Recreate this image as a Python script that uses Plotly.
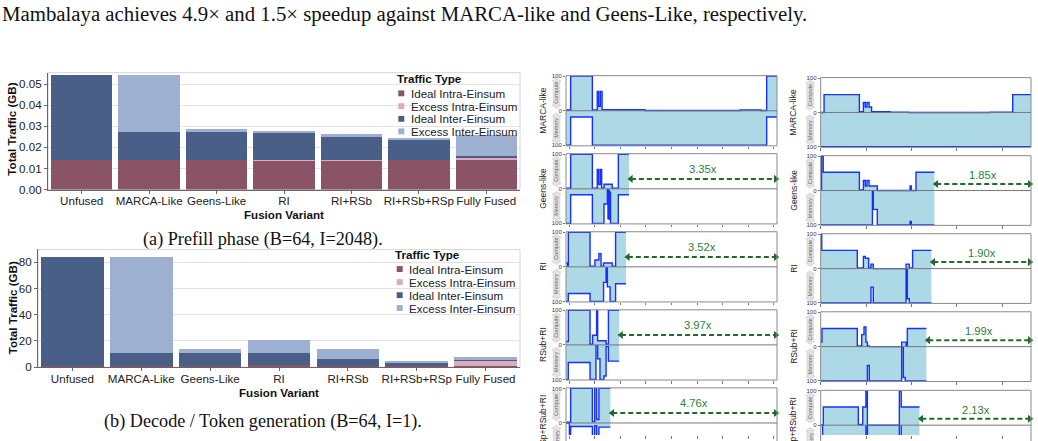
import plotly.graph_objects as go

W, H = 1038, 441

# ---------------- Bar chart data ----------------
categories = ["Unfused", "MARCA-Like", "Geens-Like", "RI", "RI+RSb", "RI+RSb+RSp", "Fully Fused"]
traffic_types = ["Ideal Intra-Einsum", "Excess Intra-Einsum", "Ideal Inter-Einsum", "Excess Inter-Einsum"]

prefill_ideal_intra = [0.0139, 0.0139, 0.0139, 0.0137, 0.0139, 0.0139, 0.0139]
prefill_excess_intra = [0.0, 0.0, 0.0, 0.0002, 0.0001, 0.0, 0.0013]
prefill_ideal_inter = [0.0405, 0.0132, 0.0132, 0.0132, 0.0111, 0.0095, 0.0006]
prefill_excess_inter = [0.0, 0.0273, 0.0017, 0.0008, 0.0014, 0.0012, 0.0099]

decode_ideal_intra = [0.9, 0.9, 0.9, 1.4, 1.2, 1.0, 1.0]
decode_excess_intra = [0.0, 0.0, 0.0, 0.0, 0.0, 0.0, 3.5]
decode_ideal_inter = [82.8, 9.8, 9.8, 9.3, 5.3, 2.3, 0.7]
decode_excess_inter = [0.0, 73.0, 3.5, 10.3, 7.7, 1.2, 2.3]

prefill_yticks = [0.0, 0.01, 0.02, 0.03, 0.04, 0.05]
decode_yticks = [0, 20, 40, 60, 80]

# ---------------- Timeline data (time in % of MARCA-like runtime) ----------------
row_labels = ["MARCA-like", "Geens-like", "RI", "RSub+RI", "RSp+RSub+RI"]
left_speedups = [None, 3.35, 3.52, 3.97, 4.76]
right_speedups = [None, 1.85, 1.90, 1.99, 2.13]

left_marca_t = [0, 2.2, 12.5, 14.8, 15.5, 16.3, 17.1, 37.4, 82.5, 92.4, 95.1, 100]
left_marca_compute = [2, 100, 2, 56, 13, 56, 3, 0.5, 2, 0.5, 100]
left_marca_memory = [100, 18, 100, 100, 100, 100, 100, 100, 100, 100, 18]

left_geens_t = [0, 2.2, 12.5, 14.8, 15.5, 16.3, 16.9, 18.0, 19.6, 19.9, 20.2, 20.5, 20.8, 21.1, 21.9, 24.8, 29.85]
left_geens_compute = [2, 100, 2, 56, 13, 56, 2, 13, 13, 13, 13, 13, 13, 13, 2, 100]
left_geens_memory = [100, 17, 100, 100, 100, 100, 100, 44, 2, 86, 5, 88, 10, 100, 100, 17]

left_ri_t = [0, 0.8, 1.1, 11.4, 13.7, 15.6, 16.6, 17.8, 19.0, 19.6, 20.1, 20.9, 21.9, 23.5, 28.41]
left_ri_compute = [11, 2, 100, 2, 20, 38, 2, 11, 11, 11, 11, 11, 2, 100]
left_ri_memory = [100, 100, 77, 100, 100, 100, 100, 45, 3, 58, 58, 100, 100, 49]

left_rsub_t = [0, 1.1, 11.4, 12.6, 14.2, 14.5, 15.0, 16.1, 18.0, 19.0, 20.1, 25.19]
left_rsub_compute = [10, 100, 2, 28, 28, 100, 12, 12, 12, 2, 100]
left_rsub_memory = [100, 51, 100, 100, 0, 0, 40, 100, 90, 5, 47]

left_rsp_t = [0, 1.6, 2.2, 12.5, 13.6, 14.5, 15.6, 21.01]
left_rsp_compute = [2, 2, 100, 4, 100, 10, 100]
left_rsp_memory = [0, 100, 10, 100, 8, 100, 12]

right_marca_t = [0, 1.6, 18.4, 20.3, 21.2, 22.0, 23.0, 24.2, 33.0, 41.7, 80.5, 91.3, 100]
right_marca_compute = [0, 52, 2, 29, 16, 29, 16, 2, 1, 0, 1, 52]
right_marca_memory = [100, 100, 100, 100, 100, 100, 100, 100, 100, 100, 100, 100]

right_geens_t = [0, 0.4, 1.2, 18.4, 20.3, 21.2, 22.0, 23.0, 24.2, 24.6, 25.0, 26.9, 42.5, 43.1, 45.3, 54.05]
right_geens_compute = [2, 100, 53, 2, 29, 13, 29, 13, 13, 13, 13, 0, 13, 0, 53]
right_geens_memory = [100, 100, 100, 100, 100, 100, 100, 100, 100, 0, 55, 100, 90, 100, 100]

right_ri_t = [0, 0.5, 17.4, 20.3, 21.2, 22.8, 23.9, 25.0, 40.6, 41.2, 42.1, 43.7, 52.63]
right_ri_compute = [100, 53, 2, 35, 30, 2, 13, 0, 13, 13, 2, 53]
right_ri_memory = [100, 100, 100, 100, 100, 100, 54, 100, 0, 88, 100, 100]

right_rsub_t = [0, 0.6, 17.4, 19.5, 20.6, 21.5, 22.2, 23.1, 38.5, 39.3, 40.2, 40.6, 41.2, 50.25]
right_rsub_compute = [13, 53, 2, 35, 57, 13, 2, 0, 13, 13, 13, 2, 53]
right_rsub_memory = [100, 100, 100, 100, 100, 100, 55, 100, 0, 90, 100, 100, 100]

right_rsp_t = [0, 0.9, 1.25, 17.9, 20.0, 21.5, 22.2, 37.4, 38.3, 46.95]
right_rsp_compute = [0, 0, 53, 2, 53, 100, 0, 100, 53]
right_rsp_memory = [0, 100, 100, 100, 100, 0, 100, 0, 100]

# ---------------- Styling ----------------
TRAFFIC_COLORS = ["#8b5466", "#dfaab9", "#4a5f88", "#9db0d1"]
FILL = "#add8e6"
LINE = "#1530ff"
GREEN_LINE = "#1f6a2c"
GREEN_TEXT = "#2e7d3a"
SANS = "Liberation Sans, Arial, sans-serif"
SERIF = "Liberation Serif, Times New Roman, serif"


def pxx(px):
    return px / W


def pxy(py):
    return 1 - py / H


def ann(text, x, y, xanchor="center", yanchor="middle", **kw):
    d = dict(text=text, x=x, y=y, xref=kw.pop("xref", "paper"), yref=kw.pop("yref", "paper"),
             xanchor=xanchor, yanchor=yanchor, showarrow=False)
    d.update(kw)
    return d


fig = go.Figure()
shapes = []
annotations = []
layout_axes = {}

# ---------------- Bar charts ----------------
bar_specs = [
    dict(series=[prefill_ideal_intra, prefill_excess_intra, prefill_ideal_inter, prefill_excess_inter],
         xa="x", ya="y", xname="xaxis", yname="yaxis", left=48, right=520, top=72, bottom=191,
         yrange=[0, 0.0555], yticks=prefill_yticks, fmt=".2f",
         ytitle_y=130, xtitle_x=284, xtitle_y=216, caption="(a) Prefill phase (B=64, I=2048).", cap_y=242,
         leg_title=(395, 78.3), leg_marker_x=398.3, leg_text_x=408.5, leg_ys=[93, 106.1, 119, 131.8]),
    dict(series=[decode_ideal_intra, decode_excess_intra, decode_ideal_inter, decode_excess_inter],
         xa="x2", ya="y2", xname="xaxis2", yname="yaxis2", left=38, right=520, top=252, bottom=372,
         yrange=[0, 89.7], yticks=decode_yticks, fmt="d",
         ytitle_y=312, xtitle_x=279, xtitle_y=398, caption="(b) Decode / Token generation (B=64, I=1).", cap_y=427,
         leg_title=(393.3, 257.3), leg_marker_x=396.7, leg_text_x=407, leg_ys=[272, 285.3, 298.6, 311.7]),
]

for spec in bar_specs:
    for name, vals, color in zip(traffic_types, spec["series"], TRAFFIC_COLORS):
        fig.add_trace(go.Bar(x=categories, y=vals, name=name, xaxis=spec["xa"], yaxis=spec["ya"],
                             marker=dict(color=color, line=dict(width=0)), showlegend=False))
    layout_axes[spec["xname"]] = dict(
        domain=[pxx(spec["left"]), pxx(spec["right"])], anchor=spec["ya"], type="category",
        categoryorder="array", categoryarray=categories, range=[-0.5, len(categories) - 0.5],
        tickangle=0, ticks="outside", ticklen=3, tickcolor="#666", showline=True, linecolor="#666",
        linewidth=1, showgrid=False, zeroline=False, ticklabelstandoff=-2,
        tickfont=dict(size=11.6, color="#222"))
    layout_axes[spec["yname"]] = dict(
        domain=[pxy(spec["bottom"]), pxy(spec["top"])], anchor=spec["xa"], range=spec["yrange"],
        tickvals=spec["yticks"], tickformat=spec["fmt"], ticks="outside", ticklen=3, tickcolor="#666",
        showline=True, linecolor="#666", linewidth=1, showgrid=True, gridcolor="#e3e3e3", gridwidth=1,
        zeroline=False, tickfont=dict(size=11.6, color="#222"))
    shapes.append(dict(type="rect", xref=spec["xa"] + " domain", yref=spec["ya"] + " domain",
                       x0=0, x1=1, y0=0, y1=1, line=dict(color="#d6d6d6", width=1), layer="below"))
    annotations.append(ann("<b>Total Traffic (GB)</b>", pxx(12), pxy(spec["ytitle_y"]), textangle=-90,
                           font=dict(size=11.6, color="#111")))
    annotations.append(ann("<b>Fusion Variant</b>", pxx(spec["xtitle_x"]), pxy(spec["xtitle_y"]),
                           font=dict(size=11.6, color="#111")))
    annotations.append(ann(spec["caption"], pxx(263), pxy(spec["cap_y"]),
                           font=dict(family=SERIF, size=18.2, color="#111")))
    tx, ty = spec["leg_title"]
    annotations.append(ann("<b>Traffic Type</b>", pxx(tx), pxy(ty), xanchor="left",
                           font=dict(size=11.6, color="#111")))
    for name, color, yc in zip(traffic_types, TRAFFIC_COLORS, spec["leg_ys"]):
        mx = spec["leg_marker_x"]
        shapes.append(dict(type="rect", xref="paper", yref="paper", x0=pxx(mx), x1=pxx(mx + 6),
                           y0=pxy(yc + 3), y1=pxy(yc - 3), fillcolor=color, line=dict(width=0)))
        annotations.append(ann(name, pxx(spec["leg_text_x"]), pxy(yc), xanchor="left",
                               font=dict(size=11.6, color="#222")))

# ---------------- Timeline panels ----------------
left_data = [(left_marca_t, left_marca_compute, left_marca_memory),
             (left_geens_t, left_geens_compute, left_geens_memory),
             (left_ri_t, left_ri_compute, left_ri_memory),
             (left_rsub_t, left_rsub_compute, left_rsub_memory),
             (left_rsp_t, left_rsp_compute, left_rsp_memory)]
right_data = [(right_marca_t, right_marca_compute, right_marca_memory),
              (right_geens_t, right_geens_compute, right_geens_memory),
              (right_ri_t, right_ri_compute, right_ri_memory),
              (right_rsub_t, right_rsub_compute, right_rsub_memory),
              (right_rsp_t, right_rsp_compute, right_rsp_memory)]

columns = [
    dict(data=left_data, speeds=left_speedups, xl=566, xr=777, tops=[75, 154.5, 234, 313.5, 393], h=71.5,
         tick0=1.6, dtick=12.1, lab_off=23, cm_off=9.5, arrow_y=28.7, text_y=56.6),
    dict(data=right_data, speeds=right_speedups, xl=820.7, xr=1031, tops=[77, 156.5, 236, 315.5, 395.5], h=71,
         tick0=0, dtick=21.6, lab_off=27.5, cm_off=10.5, arrow_y=18.9, text_y=45.1),
]


def darrow_path(cx, cy, L, bw=3.3, hw=4.6, hl=3.2):
    pts = [(cx, cy - L), (cx + hw, cy - L + hl), (cx + bw, cy - L + hl), (cx + bw, cy + L - hl),
           (cx + hw, cy + L - hl), (cx, cy + L), (cx - hw, cy + L - hl), (cx - bw, cy + L - hl),
           (cx - bw, cy - L + hl), (cx - hw, cy - L + hl)]
    return "M " + " L ".join(f"{pxx(x):.5f},{pxy(y):.5f}" for x, y in pts) + " Z"


n = 3
YPAD = 101.5
for col in columns:
    for r in range(5):
        t, comp, mem = col["data"][r]
        top = col["tops"][r]
        hgt = col["h"]
        bottom = top + hgt
        vis_bottom = min(bottom, H)
        frac = (vis_bottom - top) / hgt
        ylow = YPAD - 2 * YPAD * frac
        xa, ya = f"x{n}", f"y{n}"
        # memory (drawn downward) and compute (upward)
        fig.add_trace(go.Scatter(x=t, y=[-m for m in mem] + [-mem[-1]], mode="lines", line_shape="hv",
                                 line=dict(color=LINE, width=1.4), fill="tozeroy", fillcolor=FILL,
                                 xaxis=xa, yaxis=ya, showlegend=False, hoverinfo="skip"))
        fig.add_trace(go.Scatter(x=t, y=list(comp) + [comp[-1]], mode="lines", line_shape="hv",
                                 line=dict(color=LINE, width=1.4), fill="tozeroy", fillcolor=FILL,
                                 xaxis=xa, yaxis=ya, showlegend=False, hoverinfo="skip"))
        layout_axes[f"xaxis{n}"] = dict(domain=[pxx(col["xl"]), pxx(col["xr"])], anchor=ya, range=[0, 100],
                                        showgrid=False, zeroline=False, showline=False, showticklabels=False,
                                        ticks="outside", ticklen=2.5, tickcolor="#777", tick0=col["tick0"],
                                        dtick=col["dtick"])
        tv = [v for v in [-100, 0, 100] if v >= ylow]
        layout_axes[f"yaxis{n}"] = dict(domain=[pxy(vis_bottom), pxy(top)], anchor=xa, range=[ylow, YPAD],
                                        showgrid=False, zeroline=False, showline=False, tickmode="array",
                                        tickvals=tv, ticktext=[str(abs(v)) for v in tv], ticks="outside",
                                        ticklen=2, tickcolor="#777", tickfont=dict(size=6, color="#333"))
        # frame
        y0_dom = (vis_bottom - bottom) / (vis_bottom - top)
        shapes.append(dict(type="rect", xref=xa + " domain", yref=ya + " domain", x0=0, x1=1, y0=y0_dom, y1=1,
                           line=dict(color="#8a8a8a", width=1), layer="above"))
        shapes.append(dict(type="line", xref=xa + " domain", yref=ya, x0=0, x1=1, y0=0, y1=0,
                           line=dict(color="#777", width=1), layer="above"))
        # row label
        zero_px = top + hgt / 2
        annotations.append(ann(row_labels[r], pxx(col["xl"] - col["lab_off"]), pxy(zero_px), textangle=-90,
                               font=dict(size=8.5, color="#222")))
        # Compute / Memory tags
        for lab, cy in (("Compute", top + hgt / 4), ("Memory", top + 3 * hgt / 4)):
            cx = col["xl"] - col["cm_off"]
            shapes.append(dict(type="path", xref="paper", yref="paper", path=darrow_path(cx, cy, 15.5),
                               fillcolor="#e2e2e2", line=dict(color="#cfcfcf", width=0.6), layer="above"))
            annotations.append(ann(lab, pxx(cx), pxy(cy), textangle=-90, font=dict(size=5.5, color="#666")))
        # speedup arrow
        s = col["speeds"][r]
        if s is not None:
            xs = t[-1] + 0.9
            xe = 99.4
            fig.add_trace(go.Scatter(x=[xs, xe], y=[col["arrow_y"], col["arrow_y"]], mode="lines+markers",
                                     line=dict(color=GREEN_LINE, width=2, dash="5px,3px"),
                                     marker=dict(symbol=["triangle-left", "triangle-right"], size=7,
                                                 color=GREEN_LINE),
                                     xaxis=xa, yaxis=ya, showlegend=False, hoverinfo="skip", cliponaxis=False))
            annotations.append(ann(f"{s:.2f}x", (xs + xe) / 2, col["text_y"], xref=xa, yref=ya,
                                   font=dict(size=11.2, color=GREEN_TEXT)))
        n += 1

# ---------------- Page text ----------------
annotations.append(ann("Mambalaya achieves 4.9\u00d7 and 1.5\u00d7 speedup against MARCA-like and Geens-Like, respectively.",
                       0, pxy(12.5), xanchor="left", font=dict(family=SERIF, size=20.8, color="#111")))

fig.update_layout(width=W, height=H, margin=dict(l=0, r=0, t=0, b=0), paper_bgcolor="white",
                  plot_bgcolor="white", barmode="stack", bargap=0.09, showlegend=False,
                  font=dict(family=SANS, size=11.6, color="#222"), shapes=shapes, annotations=annotations,
                  **layout_axes)

fig.write_html("out.html")
